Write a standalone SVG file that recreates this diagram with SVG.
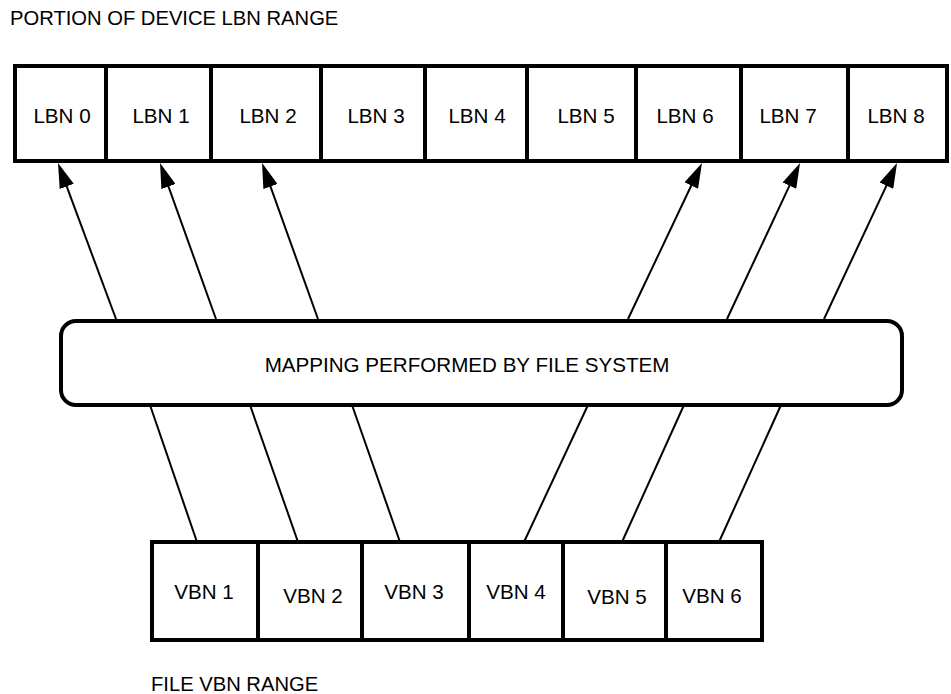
<svg xmlns="http://www.w3.org/2000/svg" width="951" height="694" viewBox="0 0 951 694">
  <style>
    .cell { fill: #ffffff; stroke: #000000; stroke-width: 4; }
    .lbl { font-family: "Liberation Sans", Arial, sans-serif; font-size: 20.6px; fill: #000000; text-anchor: middle; }
    .cap { font-family: "Liberation Sans", Arial, sans-serif; font-size: 20.2px; fill: #000000; }
    .conn { stroke: #000000; stroke-width: 2; fill: none; }
  </style>
  <defs>
    <marker id="arrow" markerUnits="userSpaceOnUse" markerWidth="25" markerHeight="15" refX="15" refY="7.5" orient="auto">
      <path d="M0,0 L25,7.5 L0,15 Z" fill="#000000"/>
    </marker>
  </defs>
  <rect x="0" y="0" width="951" height="694" fill="#ffffff"/>

  <text class="cap" x="10" y="25">PORTION OF DEVICE LBN RANGE</text>
  <text class="cap" x="151" y="691">FILE VBN RANGE</text>

  <g id="connectors">
    <line class="conn" x1="116" y1="319" x2="61.5" y2="172.4" marker-end="url(#arrow)"/>
    <line class="conn" x1="216" y1="319" x2="163.4" y2="172.4" marker-end="url(#arrow)"/>
    <line class="conn" x1="318" y1="319" x2="265.4" y2="172.4" marker-end="url(#arrow)"/>
    <line class="conn" x1="628" y1="319" x2="697.7" y2="172" marker-end="url(#arrow)"/>
    <line class="conn" x1="727" y1="319" x2="795.8" y2="172.1" marker-end="url(#arrow)"/>
    <line class="conn" x1="824" y1="319" x2="892.8" y2="172.1" marker-end="url(#arrow)"/>
    <line class="conn" x1="150" y1="405" x2="197" y2="542"/>
    <line class="conn" x1="250" y1="405" x2="298" y2="542"/>
    <line class="conn" x1="352" y1="405" x2="400" y2="542"/>
    <line class="conn" x1="588" y1="405" x2="524" y2="542"/>
    <line class="conn" x1="684" y1="405" x2="622" y2="542"/>
    <line class="conn" x1="781" y1="405" x2="719" y2="542"/>
  </g>

  <g id="lbn0"><rect class="cell" x="15" y="66" width="91" height="95"/><text class="lbl" x="62" y="123">LBN 0</text></g>
  <g id="lbn1"><rect class="cell" x="106" y="66" width="105" height="95"/><text class="lbl" x="161" y="123">LBN 1</text></g>
  <g id="lbn2"><rect class="cell" x="211" y="66" width="110" height="95"/><text class="lbl" x="268" y="123">LBN 2</text></g>
  <g id="lbn3"><rect class="cell" x="321" y="66" width="104" height="95"/><text class="lbl" x="376" y="123">LBN 3</text></g>
  <g id="lbn4"><rect class="cell" x="425" y="66" width="102" height="95"/><text class="lbl" x="477" y="123">LBN 4</text></g>
  <g id="lbn5"><rect class="cell" x="527" y="66" width="109" height="95"/><text class="lbl" x="586" y="123">LBN 5</text></g>
  <g id="lbn6"><rect class="cell" x="636" y="66" width="105" height="95"/><text class="lbl" x="685" y="123">LBN 6</text></g>
  <g id="lbn7"><rect class="cell" x="741" y="66" width="107" height="95"/><text class="lbl" x="788" y="123">LBN 7</text></g>
  <g id="lbn8"><rect class="cell" x="848" y="66" width="99" height="95"/><text class="lbl" x="896" y="123">LBN 8</text></g>

  <g id="mapping">
    <rect class="cell" x="61" y="321" width="841" height="84" rx="15" ry="15"/>
    <text class="lbl" x="467" y="372">MAPPING PERFORMED BY FILE SYSTEM</text>
  </g>

  <g id="vbn1"><rect class="cell" x="152" y="542" width="106" height="98"/><text class="lbl" x="204" y="599">VBN 1</text></g>
  <g id="vbn2"><rect class="cell" x="258" y="542" width="104" height="98"/><text class="lbl" x="313" y="603">VBN 2</text></g>
  <g id="vbn3"><rect class="cell" x="362" y="542" width="107" height="98"/><text class="lbl" x="414" y="599">VBN 3</text></g>
  <g id="vbn4"><rect class="cell" x="469" y="542" width="94" height="98"/><text class="lbl" x="516" y="599">VBN 4</text></g>
  <g id="vbn5"><rect class="cell" x="563" y="542" width="103" height="98"/><text class="lbl" x="617" y="604">VBN 5</text></g>
  <g id="vbn6"><rect class="cell" x="666" y="542" width="96" height="98"/><text class="lbl" x="712" y="603">VBN 6</text></g>
</svg>
